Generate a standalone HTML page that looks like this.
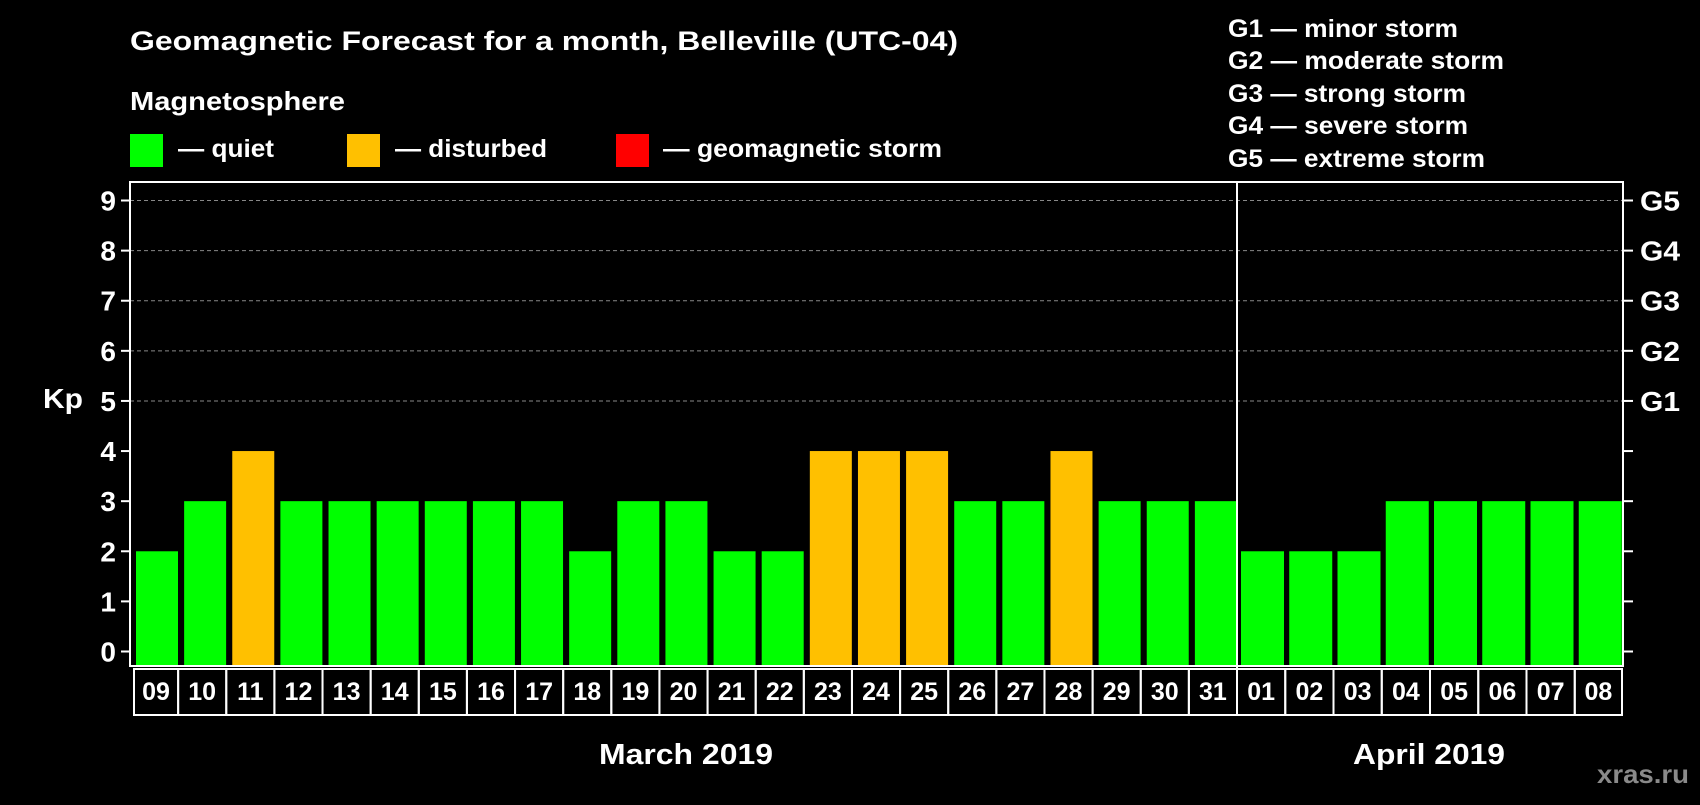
<!DOCTYPE html>
<html><head><meta charset="utf-8"><style>
html,body{margin:0;padding:0;background:#000;}
svg text{font-family:"Liberation Sans",Arial,sans-serif;font-weight:bold;fill:#fff;}
</style></head><body>
<svg id="chart" width="1700" height="800" viewBox="0 0 1700 800" xmlns="http://www.w3.org/2000/svg" font-family="Liberation Sans, Arial, sans-serif" font-weight="bold">
<rect width="1700" height="800" fill="#000"/>
<text x="130" y="50" font-size="27" textLength="828" lengthAdjust="spacingAndGlyphs">Geomagnetic Forecast for a month, Belleville (UTC-04)</text>
<text x="130" y="110" font-size="26" textLength="215" lengthAdjust="spacingAndGlyphs">Magnetosphere</text>
<rect x="130" y="134" width="33" height="33" fill="#00ff00"/>
<text x="178" y="157" font-size="25" textLength="96" lengthAdjust="spacingAndGlyphs">— quiet</text>
<rect x="347" y="134" width="33" height="33" fill="#ffc000"/>
<text x="395" y="157" font-size="25" textLength="152" lengthAdjust="spacingAndGlyphs">— disturbed</text>
<rect x="616" y="134" width="33" height="33" fill="#ff0000"/>
<text x="663" y="157" font-size="25" textLength="279" lengthAdjust="spacingAndGlyphs">— geomagnetic storm</text>
<g font-size="25">
<text x="1228" y="37" textLength="230" lengthAdjust="spacingAndGlyphs">G1 — minor storm</text>
<text x="1228" y="69" textLength="276" lengthAdjust="spacingAndGlyphs">G2 — moderate storm</text>
<text x="1228" y="102" textLength="238" lengthAdjust="spacingAndGlyphs">G3 — strong storm</text>
<text x="1228" y="134" textLength="240" lengthAdjust="spacingAndGlyphs">G4 — severe storm</text>
<text x="1228" y="167" textLength="257" lengthAdjust="spacingAndGlyphs">G5 — extreme storm</text>
</g>
<text x="43" y="408" font-size="28" textLength="40" lengthAdjust="spacingAndGlyphs">Kp</text>
<g id="grid"></g>
<g id="bars"></g>
<rect x="130" y="182" width="1493" height="484" fill="none" stroke="#fff" stroke-width="2"/>
<line x1="1237" y1="182" x2="1237" y2="715" stroke="#fff" stroke-width="2"/>
<g id="axes"></g>
<text x="599" y="764" font-size="29" textLength="174" lengthAdjust="spacingAndGlyphs">March 2019</text>
<text x="1353" y="764" font-size="29" textLength="152" lengthAdjust="spacingAndGlyphs">April 2019</text>
<text x="1597" y="783" font-size="26" textLength="92" lengthAdjust="spacingAndGlyphs" style="fill:#8a8a8a">xras.ru</text>
</svg>
<script>
const days = ["09","10","11","12","13","14","15","16","17","18","19","20","21","22","23","24","25","26","27","28","29","30","31","01","02","03","04","05","06","07","08"];
const kpValues = [2,3,4,3,3,3,3,3,3,2,3,3,2,2,4,4,4,3,3,4,3,3,3,2,2,2,3,3,3,3,3];
const yTicks = [0,1,2,3,4,5,6,7,8,9];
const gLabels = ["G1","G2","G3","G4","G5"];
const marchCount = 23;

const NS = "http://www.w3.org/2000/svg";
const X0 = 130, XDIV = 1237, X1 = 1623, Y0 = 651.5, UNIT = (651.5 - 200.5) / 9, YB = 665;
function yScale(v){ return Y0 - v * UNIT; }
function slot(i){
  if (i < marchCount){ const w = (XDIV - X0) / marchCount; return {x: X0 + i*w, w: w, inset: 6, bw: 42}; }
  const w = (X1 - XDIV) / (days.length - marchCount); return {x: XDIV + (i-marchCount)*w, w: w, inset: 4, bw: 43};
}
function mk(tag, attrs){ const e = document.createElementNS(NS, tag); for (const k in attrs) e.setAttribute(k, attrs[k]); return e; }
const grid = document.getElementById('grid'), bars = document.getElementById('bars'), axes = document.getElementById('axes');

yTicks.forEach(v => {
  const y = yScale(v);
  if (v >= 5){
    const l = mk('line', {x1: X0, x2: X1, y1: y, y2: y, stroke: '#888', 'stroke-width': 1, 'stroke-dasharray': '4,3'});
    
    
    grid.appendChild(l);
  }
  const t1 = mk('line', {x1: 121, x2: X0, y1: y, y2: y, stroke: '#fff', 'stroke-width': 2});
  
  
  axes.appendChild(t1);
  const t2 = mk('line', {x1: X1, x2: 1633, y1: y, y2: y, stroke: '#fff', 'stroke-width': 2});
  
  
  axes.appendChild(t2);
  const tx = mk('text', {x: 116, y: y + 10, 'font-size': 28, 'text-anchor': 'end'});
  tx.textContent = v;
  
  
  axes.appendChild(tx);
  if (v >= 5){
    const g = mk('text', {x: 1640, y: y + 10, 'font-size': 28, textLength: 40, lengthAdjust: 'spacingAndGlyphs'});
    g.textContent = gLabels[v - 5];
    
    
    axes.appendChild(g);
  }
});

days.forEach((d, i) => {
  const s = slot(i), v = kpValues[i];
  const col = v >= 5 ? '#ff0000' : (v >= 4 ? '#ffc000' : '#00ff00');
  const r = mk('rect', {x: s.x + s.inset, y: yScale(v), width: s.bw, height: YB - yScale(v), fill: col});
  
  
  bars.appendChild(r);
  const bx = i === 0 ? s.x + 4 : s.x;
  const bw = i === 0 ? s.w - 4 : (i === days.length - 1 ? X1 - 1 - bx : s.w);
  const b = mk('rect', {x: bx, y: 669, width: bw, height: 46, fill: 'none', stroke: '#fff', 'stroke-width': 2});
  
  
  axes.appendChild(b);
  const t = mk('text', {x: bx + bw/2, y: 700, 'font-size': 25, 'text-anchor': 'middle'});
  t.textContent = d;
  
  
  axes.appendChild(t);
});
</script>
</body></html>
